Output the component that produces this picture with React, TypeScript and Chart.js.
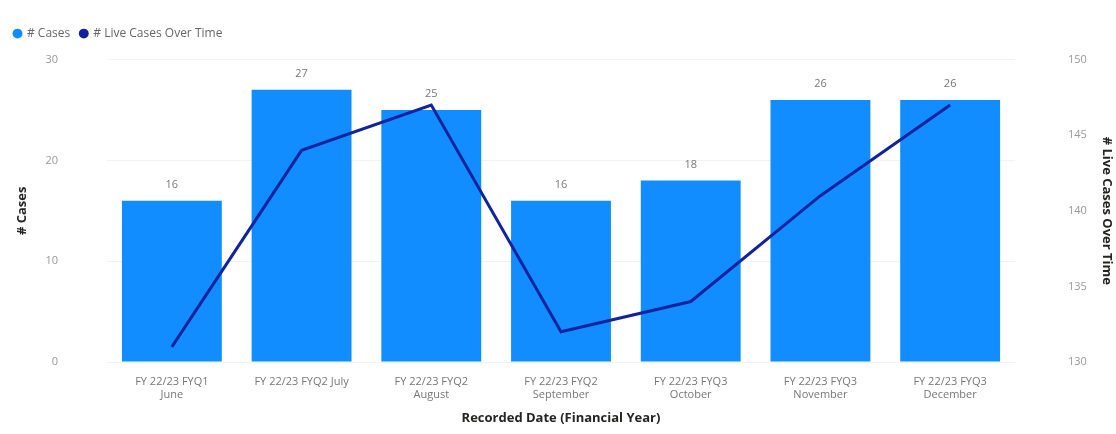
import React, { useEffect, useRef } from "react";
import { Chart, registerables } from "chart.js";

Chart.register(...registerables);

const categories: string[][] = [
  ["FY 22/23 FYQ1", "June"],
  ["FY 22/23 FYQ2 July"],
  ["FY 22/23 FYQ2", "August"],
  ["FY 22/23 FYQ2", "September"],
  ["FY 22/23 FYQ3", "October"],
  ["FY 22/23 FYQ3", "November"],
  ["FY 22/23 FYQ3", "December"],
];
const casesValues = [16, 27, 25, 16, 18, 26, 26];
const liveCasesValues = [131, 144, 147, 132, 134, 141, 147];

const FONT = "'Open Sans', 'Noto Sans', sans-serif";

const barLabels = {
  id: "barLabels",
  beforeLayout(chart: any) {
    const lg = chart.legend;
    if (lg && !lg._patched) {
      const f = lg.fit.bind(lg);
      lg.fit = function () {
        f();
        this.height += 10;
      };
      lg._patched = true;
    }
  },
  afterDatasetsDraw(chart: any) {
    const ctx = chart.ctx;
    const meta = chart.getDatasetMeta(0);
    ctx.save();
    ctx.font = `11px ${FONT}`;
    ctx.fillStyle = "#777777";
    ctx.textAlign = "center";
    ctx.textBaseline = "middle";
    meta.data.forEach((bar: any, i: number) => {
      ctx.fillText(String(casesValues[i]), bar.x, bar.y - 16);
    });
    ctx.restore();
  },
};

export default function App() {
  const ref = useRef<HTMLCanvasElement | null>(null);
  useEffect(() => {
    document.body.style.margin = "0";
    const chart = new Chart(ref.current as HTMLCanvasElement, {
      type: "bar",
      data: {
        labels: categories as any,
        datasets: [
          {
            type: "bar",
            label: "# Cases",
            data: casesValues,
            backgroundColor: "#118DFF",
            borderWidth: 0,
            categoryPercentage: 1,
            barPercentage: 0.77,
            yAxisID: "y",
            order: 1,
          } as any,
          {
            type: "line",
            label: "# Live Cases Over Time",
            data: liveCasesValues,
            borderColor: "#12239E",
            backgroundColor: "#12239E",
            borderWidth: 3,
            pointRadius: 0,
            tension: 0,
            yAxisID: "y1",
            order: 0,
          } as any,
        ],
      },
      options: {
        animation: false,
        responsive: false,
        maintainAspectRatio: false,
        layout: { padding: { top: 6, left: 4, right: 0, bottom: 0 } },
        plugins: {
          tooltip: { enabled: false },
          legend: {
            position: "top",
            align: "start",
            labels: {
              usePointStyle: true,
              pointStyle: "circle",
              boxWidth: 7,
              boxHeight: 7,
              padding: 10,
              color: "#666666",
              font: { family: FONT, size: 12 },
              sort: (a: any, b: any) => a.datasetIndex - b.datasetIndex,
              generateLabels: (c: any) => {
                const items = Chart.defaults.plugins.legend.labels.generateLabels(c);
                items.forEach((it: any) => {
                  it.lineWidth = 0;
                  it.pointStyle = "circle";
                });
                return items;
              },
            },
          },
        },
        scales: {
          x: {
            grid: { display: false, drawTicks: false },
            border: { display: false },
            ticks: {
              color: "#777777",
              font: { family: FONT, size: 11 },
              padding: 13,
              maxRotation: 0,
              autoSkip: false,
            },
            title: {
              display: true,
              text: "Recorded Date (Financial Year)",
              color: "#252423",
              font: { family: FONT, size: 13, weight: "bold" },
              padding: { top: 4, bottom: 8 },
            },
            afterFit: (s: any) => {
              s.height = 72;
            },
          },
          y: {
            position: "left",
            min: 0,
            max: 30,
            ticks: {
              stepSize: 10,
              color: "#999999",
              font: { family: FONT, size: 11 },
              padding: 49,
            },
            grid: { color: "#f2f2f2", drawTicks: false },
            border: { display: false },
            title: {
              display: true,
              text: "# Cases",
              color: "#252423",
              font: { family: FONT, size: 13, weight: "bold" },
              padding: { top: 10, bottom: 4 },
            },
            afterFit: (s: any) => {
              s.width = 103;
            },
          },
          y1: {
            position: "right",
            min: 130,
            max: 150,
            ticks: {
              stepSize: 5,
              color: "#999999",
              font: { family: FONT, size: 11 },
              padding: 53,
            },
            grid: { display: false, drawTicks: false },
            border: { display: false },
            title: {
              display: true,
              text: "# Live Cases Over Time",
              color: "#252423",
              font: { family: FONT, size: 13, weight: "bold" },
              padding: { top: 1, bottom: 4 },
            },
            afterFit: (s: any) => {
              s.width = 101;
            },
          },
        },
      } as any,
      plugins: [barLabels],
    });
    return () => chart.destroy();
  }, []);
  return (
    <div style={{ width: 1116, height: 434, position: "relative", background: "#ffffff" }}>
      <canvas ref={ref} width={1116} height={434} style={{ width: 1116, height: 434, display: "block" }} />
    </div>
  );
}
